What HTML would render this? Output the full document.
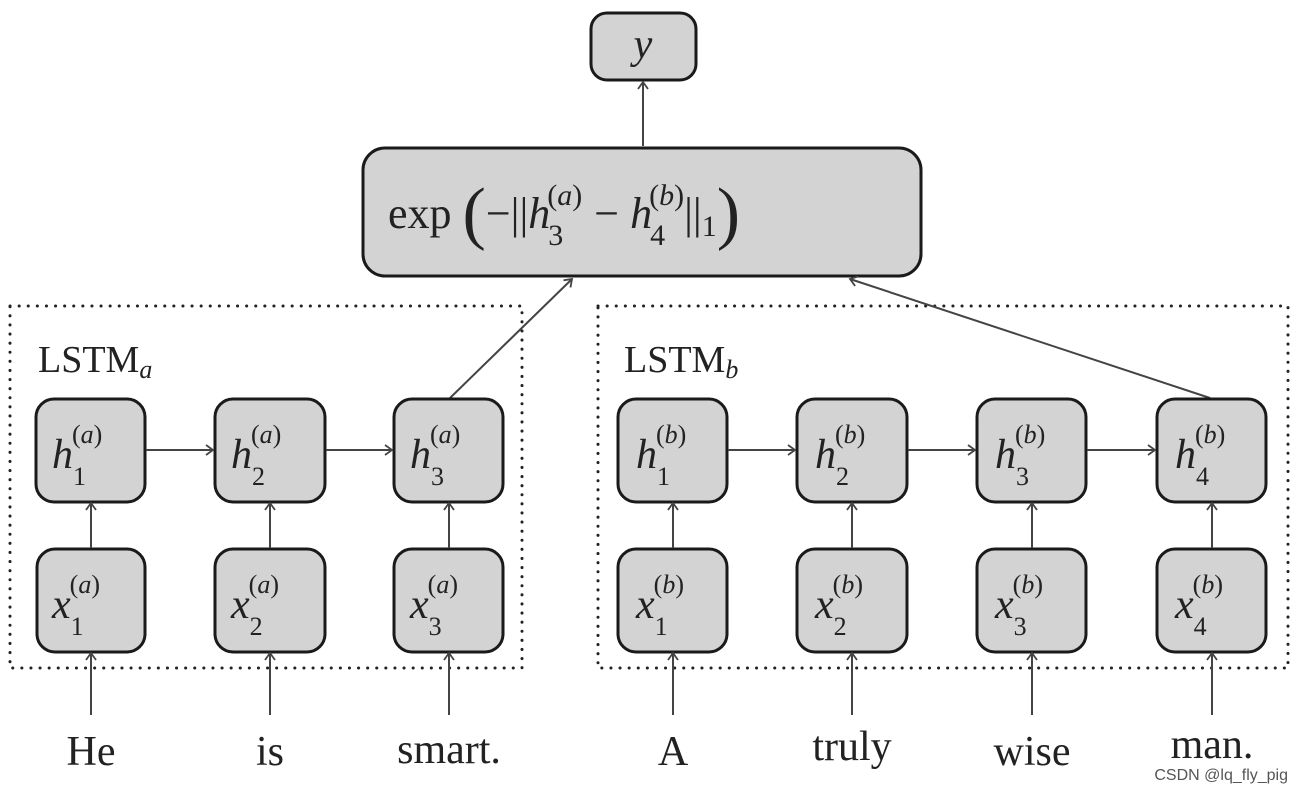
<!DOCTYPE html>
<html><head><meta charset="utf-8"><style>
html,body{margin:0;padding:0;background:#fff;}
svg{display:block;}
text{font-family:"Liberation Serif",serif;fill:#222;}
.b{fill:#d3d3d3;stroke:#1a1a1a;stroke-width:3;}
.l{stroke:#444;stroke-width:2;fill:none;marker-end:url(#a);}
.d{fill:none;stroke:#222;stroke-width:3;stroke-dasharray:0.1 9;stroke-linecap:round;}
.m{font-style:italic;font-size:42px;}
.s{font-size:26px;}
.w{font-size:42px;}
</style></head><body>
<svg width="1302" height="794" viewBox="0 0 1302 794" xmlns="http://www.w3.org/2000/svg">
<defs><marker id="a" markerWidth="12" markerHeight="12" refX="10" refY="6" orient="auto" markerUnits="userSpaceOnUse"><polyline points="3,1 10,6 3,11" fill="none" stroke="#444" stroke-width="1.8"/></marker></defs>
<rect x="10" y="306" width="512" height="362" class="d"/>
<rect x="598" y="306" width="690" height="362" class="d"/>
<text x="38" y="372" style="font-size:38px">LSTM<tspan style="font-style:italic;font-size:26px" dy="6">a</tspan></text>
<text x="624" y="372" style="font-size:38px">LSTM<tspan style="font-style:italic;font-size:26px" dy="6">b</tspan></text>
<!-- top -->
<rect x="591" y="13" width="105" height="67" rx="16" class="b"/>
<text x="643" y="58" class="m" text-anchor="middle">y</text>
<line x1="643" y1="146" x2="643" y2="82" class="l"/>
<rect x="363" y="148" width="558" height="128" rx="22" class="b"/>
<text x="388" y="228" style="font-size:44px">exp <tspan font-size="70" dy="8">(</tspan><tspan dy="-8">−||</tspan><tspan font-style="italic">h</tspan><tspan font-size="30" dx="-2" dy="17">3</tspan><tspan font-size="30" dx="-16" dy="-40">(<tspan font-style="italic">a</tspan>)</tspan><tspan dx="12" dy="23">− </tspan><tspan font-style="italic">h</tspan><tspan font-size="30" dx="-2" dy="17">4</tspan><tspan font-size="30" dx="-16" dy="-40">(<tspan font-style="italic">b</tspan>)</tspan><tspan dy="23">||</tspan><tspan font-size="30" dy="8">1</tspan><tspan font-size="70" dy="0">)</tspan></text>
<line x1="450" y1="398" x2="572" y2="279" class="l"/>
<line x1="1210" y1="398" x2="850" y2="279" class="l"/>
<g id="cells">
</g>
<!-- Left columns -->
<g>
<rect x="36" y="399" width="109" height="103" rx="18" class="b"/>
<rect x="215" y="399" width="110" height="103" rx="18" class="b"/>
<rect x="394" y="399" width="109" height="103" rx="18" class="b"/>
<rect x="37" y="549" width="108" height="103" rx="18" class="b"/>
<rect x="215" y="549" width="110" height="103" rx="18" class="b"/>
<rect x="394" y="549" width="109" height="103" rx="18" class="b"/>
<rect x="618" y="399" width="109" height="103" rx="18" class="b"/>
<rect x="797" y="399" width="110" height="103" rx="18" class="b"/>
<rect x="977" y="399" width="109" height="103" rx="18" class="b"/>
<rect x="1157" y="399" width="109" height="103" rx="18" class="b"/>
<rect x="618" y="549" width="109" height="103" rx="18" class="b"/>
<rect x="797" y="549" width="110" height="103" rx="18" class="b"/>
<rect x="977" y="549" width="109" height="103" rx="18" class="b"/>
<rect x="1157" y="549" width="109" height="103" rx="18" class="b"/>
</g>
<!-- horizontal arrows -->
<line x1="146" y1="450" x2="213" y2="450" class="l"/>
<line x1="326" y1="450" x2="392" y2="450" class="l"/>
<line x1="728" y1="450" x2="795" y2="450" class="l"/>
<line x1="908" y1="450" x2="975" y2="450" class="l"/>
<line x1="1087" y1="450" x2="1155" y2="450" class="l"/>
<!-- vertical arrows -->
<g>
<line x1="91" y1="548" x2="91" y2="503" class="l"/><line x1="91" y1="715" x2="91" y2="653" class="l"/>
<line x1="270" y1="548" x2="270" y2="503" class="l"/><line x1="270" y1="715" x2="270" y2="653" class="l"/>
<line x1="449" y1="548" x2="449" y2="503" class="l"/><line x1="449" y1="715" x2="449" y2="653" class="l"/>
<line x1="673" y1="548" x2="673" y2="503" class="l"/><line x1="673" y1="715" x2="673" y2="653" class="l"/>
<line x1="852" y1="548" x2="852" y2="503" class="l"/><line x1="852" y1="715" x2="852" y2="653" class="l"/>
<line x1="1032" y1="548" x2="1032" y2="503" class="l"/><line x1="1032" y1="715" x2="1032" y2="653" class="l"/>
<line x1="1212" y1="548" x2="1212" y2="503" class="l"/><line x1="1212" y1="715" x2="1212" y2="653" class="l"/>
</g>
<!-- labels in cells -->
<g class="m">
<text x="52" y="468" class="m">h<tspan class="s" font-style="normal" dy="17">1</tspan><tspan class="s" font-style="normal" dx="-14" dy="-42">(<tspan font-style="italic">a</tspan>)</tspan></text>
<text x="231" y="468" class="m">h<tspan class="s" font-style="normal" dy="17">2</tspan><tspan class="s" font-style="normal" dx="-14" dy="-42">(<tspan font-style="italic">a</tspan>)</tspan></text>
<text x="410" y="468" class="m">h<tspan class="s" font-style="normal" dy="17">3</tspan><tspan class="s" font-style="normal" dx="-14" dy="-42">(<tspan font-style="italic">a</tspan>)</tspan></text>
<text x="52" y="618" class="m">x<tspan class="s" font-style="normal" dy="17">1</tspan><tspan class="s" font-style="normal" dx="-14" dy="-42">(<tspan font-style="italic">a</tspan>)</tspan></text>
<text x="231" y="618" class="m">x<tspan class="s" font-style="normal" dy="17">2</tspan><tspan class="s" font-style="normal" dx="-14" dy="-42">(<tspan font-style="italic">a</tspan>)</tspan></text>
<text x="410" y="618" class="m">x<tspan class="s" font-style="normal" dy="17">3</tspan><tspan class="s" font-style="normal" dx="-14" dy="-42">(<tspan font-style="italic">a</tspan>)</tspan></text>
<text x="636" y="468" class="m">h<tspan class="s" font-style="normal" dy="17">1</tspan><tspan class="s" font-style="normal" dx="-14" dy="-42">(<tspan font-style="italic">b</tspan>)</tspan></text>
<text x="815" y="468" class="m">h<tspan class="s" font-style="normal" dy="17">2</tspan><tspan class="s" font-style="normal" dx="-14" dy="-42">(<tspan font-style="italic">b</tspan>)</tspan></text>
<text x="995" y="468" class="m">h<tspan class="s" font-style="normal" dy="17">3</tspan><tspan class="s" font-style="normal" dx="-14" dy="-42">(<tspan font-style="italic">b</tspan>)</tspan></text>
<text x="1175" y="468" class="m">h<tspan class="s" font-style="normal" dy="17">4</tspan><tspan class="s" font-style="normal" dx="-14" dy="-42">(<tspan font-style="italic">b</tspan>)</tspan></text>
<text x="636" y="618" class="m">x<tspan class="s" font-style="normal" dy="17">1</tspan><tspan class="s" font-style="normal" dx="-14" dy="-42">(<tspan font-style="italic">b</tspan>)</tspan></text>
<text x="815" y="618" class="m">x<tspan class="s" font-style="normal" dy="17">2</tspan><tspan class="s" font-style="normal" dx="-14" dy="-42">(<tspan font-style="italic">b</tspan>)</tspan></text>
<text x="995" y="618" class="m">x<tspan class="s" font-style="normal" dy="17">3</tspan><tspan class="s" font-style="normal" dx="-14" dy="-42">(<tspan font-style="italic">b</tspan>)</tspan></text>
<text x="1175" y="618" class="m">x<tspan class="s" font-style="normal" dy="17">4</tspan><tspan class="s" font-style="normal" dx="-14" dy="-42">(<tspan font-style="italic">b</tspan>)</tspan></text>
</g>
<!-- words -->
<g class="w" text-anchor="middle">
<text x="91" y="765" class="w" text-anchor="middle">He</text>
<text x="270" y="765" class="w" text-anchor="middle">is</text>
<text x="449" y="763" class="w" text-anchor="middle">smart.</text>
<text x="673" y="765" class="w" text-anchor="middle">A</text>
<text x="852" y="760" class="w" text-anchor="middle">truly</text>
<text x="1032" y="765" class="w" text-anchor="middle">wise</text>
<text x="1212" y="758" class="w" text-anchor="middle">man.</text>
</g>
<text x="1288" y="780" text-anchor="end" style="font-family:'Liberation Sans',sans-serif;font-size:16px;fill:#555">CSDN @lq_fly_pig</text>
</svg>
</body></html>
